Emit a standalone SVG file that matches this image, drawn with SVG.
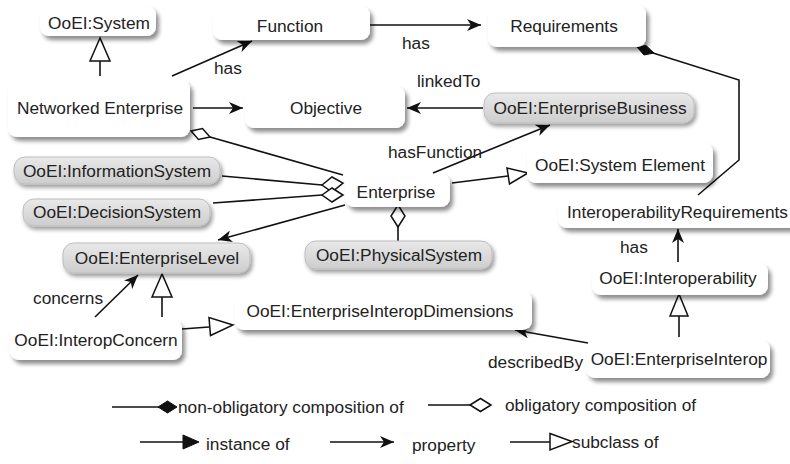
<svg xmlns="http://www.w3.org/2000/svg" width="790" height="464" viewBox="0 0 790 464">
<defs>
<filter id="sh" x="-10%" y="-20%" width="130%" height="160%">
<feGaussianBlur in="SourceAlpha" stdDeviation="2"/>
<feOffset dx="3" dy="4" result="b"/>
<feComponentTransfer><feFuncA type="linear" slope="0.45"/></feComponentTransfer>
<feMerge><feMergeNode/><feMergeNode in="SourceGraphic"/></feMerge>
</filter>
<filter id="gs" x="-10%" y="-30%" width="125%" height="180%">
<feGaussianBlur in="SourceAlpha" stdDeviation="2.2"/>
<feOffset dx="2" dy="3" result="b"/>
<feComponentTransfer><feFuncA type="linear" slope="0.4"/></feComponentTransfer>
<feMerge><feMergeNode/><feMergeNode in="SourceGraphic"/></feMerge>
</filter>
<linearGradient id="gg" x1="0" y1="0" x2="0" y2="1">
<stop offset="0" stop-color="#e9e9e9"/>
<stop offset="1" stop-color="#cdcdcd"/>
</linearGradient>
<marker id="arr" markerUnits="userSpaceOnUse" markerWidth="15" markerHeight="12" refX="14" refY="6" orient="auto">
<path d="M0,0 L14,6 L0,12 L4,6 Z" fill="#111"/>
</marker>
<style>
text{font-family:"Liberation Sans",Arial,sans-serif;font-size:17.3px;fill:#222;dominant-baseline:central}
.c{text-anchor:middle}
.w{fill:#fff;filter:url(#sh)}
.g{fill:url(#gg);stroke:#bdbdbd;stroke-width:1;filter:url(#gs)}
.l{stroke:#111;stroke-width:1.6;fill:none}
.a{marker-end:url(#arr)}
.o{fill:#fff;stroke:#111;stroke-width:1.5}
.f{fill:#111;stroke:#111;stroke-width:1}
</style>
</defs>
<rect width="790" height="464" fill="#fff"/>

<g id="connectors">
<!-- subclass NE -> System -->
<line class="l" x1="100" y1="76" x2="100" y2="61"/>
<polygon class="o" points="100,38 90,61 110,61"/>
<!-- has NE -> Function -->
<line class="l a" x1="172" y1="76" x2="252" y2="41"/>
<text x="214" y="68">has</text>
<!-- NE -> Objective -->
<line class="l a" x1="193" y1="108" x2="243" y2="108"/>
<!-- Function -> Requirements -->
<line class="l a" x1="370" y1="25" x2="481" y2="25"/>
<text x="402" y="43">has</text>
<!-- InteroperabilityRequirements -> Requirements (filled diamond) -->
<polyline class="l" points="653,53 739,80 739,160 698,195"/>
<polygon class="f" points="637,47 646,45.5 654,53 644,55"/>
<!-- linkedTo -->
<line class="l a" x1="483" y1="108" x2="407" y2="108"/>
<text x="417" y="81">linkedTo</text>
<!-- hasFunction -->
<line class="l a" x1="433" y1="173" x2="550" y2="125"/>
<text x="388" y="152">hasFunction</text>
<!-- NE diamond to Enterprise -->
<line class="l" x1="210" y1="137" x2="343" y2="175"/>
<polygon class="o" points="191,131 202.5,128.5 210,137 198.5,139.5"/>
<!-- InformationSystem / DecisionSystem diamonds -->
<line class="l" x1="222" y1="176" x2="322" y2="185"/>
<line class="l" x1="213" y1="203" x2="322" y2="195"/>
<polygon class="o" points="322,185 332,177 343,183 332,192"/>
<polygon class="o" points="322,195 332,188 343,195 332,202"/>
<!-- Enterprise -> EnterpriseLevel -->
<line class="l a" x1="345" y1="205" x2="218" y2="240"/>
<!-- Enterprise subclass of System Element -->
<line class="l" x1="452" y1="183" x2="508" y2="176"/>
<polygon class="o" points="528,173 507,168 509.5,184"/>
<!-- PhysicalSystem diamond -->
<line class="l" x1="398" y1="227" x2="398" y2="241"/>
<polygon class="o" points="398,205 405,216 398,227 391,216"/>
<!-- has Interoperability -> InteroperabilityRequirements -->
<line class="l a" x1="678" y1="262" x2="678" y2="229"/>
<text x="620" y="247">has</text>
<!-- EnterpriseInterop subclass Interoperability -->
<line class="l" x1="679" y1="337" x2="679" y2="316"/>
<polygon class="o" points="679,294 670,316 688,316"/>
<!-- describedBy -->
<line class="l a" x1="588" y1="343" x2="515" y2="330"/>
<text x="488" y="362">describedBy</text>
<!-- InteropConcern subclass EnterpriseLevel -->
<line class="l" x1="162" y1="317" x2="162" y2="297"/>
<polygon class="o" points="162,274 152,297 172,297"/>
<!-- concerns -->
<line class="l a" x1="95" y1="317" x2="138" y2="275"/>
<text x="33" y="298">concerns</text>
<!-- InteropConcern subclass Dimensions -->
<line class="l" x1="182" y1="329" x2="209" y2="327"/>
<polygon class="o" points="233,325 209,317.5 210.5,335.5"/>
</g>

<g id="n-system"><rect class="w" x="40" y="6" width="116" height="30" rx="9"/><text class="c" x="99" y="23">OoEI:System</text></g>
<g id="n-function"><rect class="w" x="213" y="6" width="157" height="34" rx="9"/><text class="c" x="290" y="26">Function</text></g>
<g id="n-requirements"><rect class="w" x="488" y="5" width="158" height="42" rx="9"/><text class="c" x="564" y="26">Requirements</text></g>
<g id="n-networked"><rect class="w" x="8" y="80" width="182" height="57" rx="9"/><text class="c" x="100" y="108">Networked Enterprise</text></g>
<g id="n-objective"><rect class="w" x="245" y="86" width="160" height="42" rx="9"/><text class="c" x="326" y="108">Objective</text></g>
<g id="n-business"><rect class="g" x="484" y="93" width="210" height="30" rx="11"/><text class="c" x="590" y="108">OoEI:EnterpriseBusiness</text></g>
<g id="n-information"><rect class="g" x="14" y="157" width="206" height="27" rx="11"/><text class="c" x="117" y="171">OoEI:InformationSystem</text></g>
<g id="n-decision"><rect class="g" x="23" y="199" width="187" height="27" rx="11"/><text class="c" x="117" y="212">OoEI:DecisionSystem</text></g>
<g id="n-enterprise"><rect class="w" x="345" y="174" width="105" height="33" rx="9"/><text class="c" x="396" y="192">Enterprise</text></g>
<g id="n-systemelement"><rect class="w" x="527" y="143" width="186" height="40" rx="9"/><text class="c" x="620" y="165">OoEI:System Element</text></g>
<g id="n-interopreq"><rect class="w" x="558" y="196" width="240" height="32" rx="9"/><text class="c" x="677.5" y="212">InteroperabilityRequirements</text></g>
<g id="n-level"><rect class="g" x="63" y="243" width="187" height="30" rx="11"/><text class="c" x="157" y="258">OoEI:EnterpriseLevel</text></g>
<g id="n-physical"><rect class="g" x="305" y="241" width="187" height="28" rx="11"/><text class="c" x="399" y="255">OoEI:PhysicalSystem</text></g>
<g id="n-interoperability"><rect class="w" x="592" y="263" width="176" height="32" rx="9"/><text class="c" x="678" y="278">OoEI:Interoperability</text></g>
<g id="n-concern"><rect class="w" x="10" y="320" width="172" height="40" rx="9"/><text class="c" x="96" y="340">OoEI:InteropConcern</text></g>
<g id="n-dimensions"><rect class="w" x="235" y="291" width="297" height="39" rx="9"/><text class="c" x="380" y="311">OoEI:EnterpriseInteropDimensions</text></g>
<g id="n-entinterop"><rect class="w" x="586" y="340" width="184" height="38" rx="9"/><text class="c" x="679" y="359">OoEI:EnterpriseInterop</text></g>

<g id="legend">
<line class="l" x1="112" y1="407" x2="159" y2="407"/>
<polygon class="f" points="158,407 167.5,401 177,407 167.5,413"/>
<text x="178" y="407">non-obligatory composition of</text>
<line class="l" x1="428" y1="405" x2="470" y2="405"/>
<polygon class="o" points="470,405 480.5,398.5 491,405 480.5,411.5"/>
<text x="505" y="405">obligatory composition of</text>
<line class="l" x1="140" y1="442" x2="184" y2="442"/>
<polygon class="f" points="183,435 199,442 183,449"/>
<text x="206" y="444">instance of</text>
<line class="l a" x1="330" y1="442" x2="394" y2="442"/>
<text x="412" y="445">property</text>
<line class="l" x1="510" y1="442" x2="550" y2="442"/>
<polygon class="o" points="550,433.5 572,441.5 550,450"/>
<text x="572" y="442">subclass of</text>
</g>
</svg>
